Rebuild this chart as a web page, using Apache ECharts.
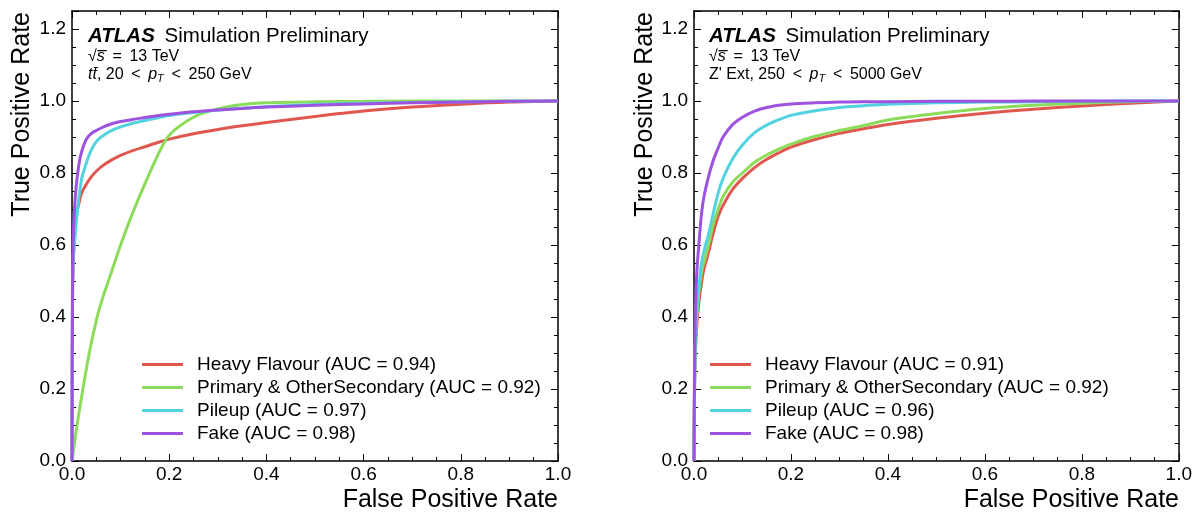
<!DOCTYPE html>
<html>
<head>
<meta charset="utf-8">
<script src="https://cdn.jsdelivr.net/npm/echarts@6/dist/echarts.min.js"></script>
<style>
html, body { margin: 0; padding: 0; background: #fff; }
#chart { width: 1195px; height: 512px; }
</style>
</head>
<body>
<div id="chart"></div>
<script>
// false positive rate grid shared by all curves
const fpr = [0, 0.001, 0.003, 0.006, 0.01, 0.015, 0.02, 0.03, 0.04, 0.05, 0.06, 0.08, 0.1, 0.125, 0.15, 0.175, 0.2, 0.25, 0.3, 0.35, 0.4, 0.5, 0.6, 0.7, 0.8, 0.9, 1.0];

// ttbar, 20 < pT < 250 GeV
const ttHeavy   = [0, 0.42, 0.57, 0.64, 0.69, 0.72, 0.745, 0.77, 0.79, 0.805, 0.817, 0.835, 0.849, 0.862, 0.873, 0.884, 0.894, 0.909, 0.921, 0.931, 0.94, 0.957, 0.972, 0.983, 0.991, 0.997, 1];
const ttPrimary = [0, 0.01, 0.03, 0.06, 0.095, 0.14, 0.18, 0.26, 0.33, 0.39, 0.44, 0.52, 0.6, 0.69, 0.77, 0.845, 0.905, 0.955, 0.978, 0.99, 0.995, 0.998, 0.999, 1, 1, 1, 1];
const ttPileup  = [0, 0.45, 0.57, 0.62, 0.68, 0.74, 0.785, 0.83, 0.865, 0.887, 0.9, 0.917, 0.928, 0.938, 0.946, 0.953, 0.96, 0.968, 0.975, 0.98, 0.984, 0.99, 0.994, 0.996, 0.998, 0.999, 1];
const ttFake    = [0, 0.5, 0.64, 0.72, 0.78, 0.83, 0.86, 0.895, 0.91, 0.918, 0.925, 0.936, 0.943, 0.949, 0.954, 0.959, 0.963, 0.97, 0.975, 0.979, 0.983, 0.988, 0.992, 0.995, 0.997, 0.999, 1];

// Z' Ext, 250 < pT < 5000 GeV
const zpHeavy   = [0, 0.18, 0.3, 0.38, 0.44, 0.49, 0.53, 0.58, 0.635, 0.68, 0.71, 0.755, 0.785, 0.815, 0.838, 0.856, 0.872, 0.893, 0.91, 0.923, 0.935, 0.952, 0.966, 0.977, 0.986, 0.994, 1];
const zpPrimary = [0, 0.2, 0.33, 0.41, 0.47, 0.52, 0.55, 0.6, 0.66, 0.7, 0.735, 0.775, 0.8, 0.83, 0.85, 0.866, 0.88, 0.902, 0.918, 0.932, 0.947, 0.965, 0.979, 0.988, 0.994, 0.998, 1];
const zpPileup  = [0, 0.2, 0.33, 0.42, 0.48, 0.545, 0.58, 0.63, 0.69, 0.745, 0.785, 0.84, 0.878, 0.912, 0.933, 0.948, 0.96, 0.973, 0.982, 0.987, 0.991, 0.995, 0.997, 0.998, 0.999, 1, 1];
const zpFake    = [0, 0.25, 0.42, 0.53, 0.6, 0.68, 0.73, 0.79, 0.836, 0.87, 0.9, 0.935, 0.955, 0.972, 0.982, 0.988, 0.992, 0.995, 0.997, 0.998, 0.998, 0.999, 0.999, 1, 1, 1, 1];

const namesTT = ['Heavy Flavour (AUC = 0.94)', 'Primary & OtherSecondary (AUC = 0.92)', 'Pileup (AUC = 0.97)', 'Fake (AUC = 0.98)'];
const namesZP = ['Heavy Flavour (AUC = 0.91)', 'Primary & OtherSecondary (AUC = 0.92)', 'Pileup (AUC = 0.96)', 'Fake (AUC = 0.98)'];
const colors = ['#e0574f', '#8ddb5a', '#52d3df', '#9d52e0'];

const FONT = 'Liberation Sans';
const grids = [
    { left: 72, top: 11, width: 486, height: 450 },
    { left: 694, top: 11, width: 485, height: 450 }
];

const lineBlack = { show: true, onZero: false, lineStyle: { color: '#000', width: 1.5 } };

function xAxes(gi) {
    const base = {
        type: 'value', gridIndex: gi, min: 0, max: 1, interval: 0.2,
        axisLine: lineBlack,
        axisTick: { show: true, inside: true, length: 7, lineStyle: { color: '#000', width: 1 } },
        minorTick: { show: true, splitNumber: 4, length: 4, lineStyle: { color: '#000', width: 1 } },
        splitLine: { show: false }
    };
    return [
        Object.assign({}, base, {
            position: 'bottom',
            axisLabel: { show: true, margin: 4, color: '#000', fontSize: 19, fontFamily: FONT, formatter: v => v.toFixed(1) }
        }),
        Object.assign({}, base, { position: 'top', axisLabel: { show: false } })
    ];
}

function yAxes(gi) {
    const major = {
        type: 'value', gridIndex: gi, min: 0, max: 1.25, interval: 0.2,
        axisLine: lineBlack,
        axisTick: { show: true, inside: true, length: 7, lineStyle: { color: '#000', width: 1 } },
        splitLine: { show: false }
    };
    const minor = {
        type: 'value', gridIndex: gi, min: 0, max: 1.25, interval: 0.05,
        axisLine: { show: false, onZero: false },
        axisTick: { show: true, inside: true, length: 4, lineStyle: { color: '#000', width: 1 } },
        axisLabel: { show: false },
        splitLine: { show: false }
    };
    return [
        Object.assign({}, major, {
            position: 'left',
            axisLabel: {
                show: true, margin: 6, color: '#000', fontSize: 19, fontFamily: FONT,
                formatter: v => (Math.abs(v * 5 - Math.round(v * 5)) < 1e-6 ? v.toFixed(1) : '')
            }
        }),
        Object.assign({}, major, { position: 'right', axisLabel: { show: false } }),
        Object.assign({}, minor, { position: 'left' }),
        Object.assign({}, minor, { position: 'right' })
    ];
}

function makeSeries(names, ys, gi) {
    return names.map((n, i) => ({
        name: n,
        type: 'line',
        xAxisIndex: gi * 2,
        yAxisIndex: gi * 4,
        data: fpr.map((x, k) => [x, ys[i][k]]),
        showSymbol: false,
        smooth: 0.3,
        lineStyle: { width: 3, color: colors[i] },
        itemStyle: { color: colors[i] },
        z: 2 + i
    }));
}

function makeLegend(names, left) {
    return {
        data: names, orient: 'vertical', left: left, top: 355,
        icon: 'rect', itemWidth: 41, itemHeight: 3, itemGap: 4,
        padding: 0, selectedMode: false,
        textStyle: { fontSize: 19, fontFamily: FONT, color: '#000', lineHeight: 19, padding: [0, 0, 0, 9] }
    };
}

const rich = {
    a: { fontSize: 20.5, fontWeight: 'bold', fontStyle: 'italic', fontFamily: FONT, color: '#000' },
    b: { fontSize: 20.5, fontFamily: FONT, color: '#000' },
    n: { fontSize: 16, fontFamily: FONT, color: '#000', lineHeight: 19 },
    it: { fontSize: 16, fontStyle: 'italic', fontFamily: FONT, color: '#000', lineHeight: 19 },
    sub: { fontSize: 11, fontStyle: 'italic', fontFamily: FONT, color: '#000', lineHeight: 11, verticalAlign: 'bottom' }
};

function labels(x0, sample) {
    return [
        { type: 'text', x: x0, y: 36, style: { text: '{a|ATLAS}{b| \u2009Simulation Preliminary}', rich: rich, verticalAlign: 'middle' } },
        { type: 'text', x: x0, y: 57, style: { text: '{n|√}{it|s\u0305}{n| \u2009=\u2009 13 TeV}', rich: rich, verticalAlign: 'middle' } },
        { type: 'text', x: x0, y: 75, style: { text: sample, rich: rich, verticalAlign: 'middle' } }
    ];
}

function titles(g, yx) {
    return [
        { type: 'text', x: g.left + g.width, y: 500, style: { text: 'False Positive Rate', font: '25px "Liberation Sans"', fill: '#000', align: 'right', verticalAlign: 'middle' } },
        { type: 'text', x: yx, y: 12, rotation: Math.PI / 2, style: { text: 'True Positive Rate', font: '25px "Liberation Sans"', fill: '#000', align: 'right', verticalAlign: 'middle' } }
    ];
}

const chart = echarts.init(document.getElementById('chart'));
chart.setOption({
    animation: false,
    backgroundColor: '#fff',
    grid: grids,
    xAxis: xAxes(0).concat(xAxes(1)),
    yAxis: yAxes(0).concat(yAxes(1)),
    legend: [makeLegend(namesTT, 142), makeLegend(namesZP, 710)],
    series: makeSeries(namesTT, [ttHeavy, ttPrimary, ttPileup, ttFake], 0)
        .concat(makeSeries(namesZP, [zpHeavy, zpPrimary, zpPileup, zpFake], 1)),
    graphic: labels(88, '{it|t}{it|t\u0304}{n|, 20 \u2009<\u2009 }{it|p}{sub|T}{n| \u2009<\u2009 250 GeV}')
        .concat(labels(709, "{n|Z' Ext, 250 \u2009<\u2009 }{it|p}{sub|T}{n| \u2009<\u2009 5000 GeV}"))
        .concat(titles(grids[0], 22))
        .concat(titles(grids[1], 645))
});
</script>
</body>
</html>
